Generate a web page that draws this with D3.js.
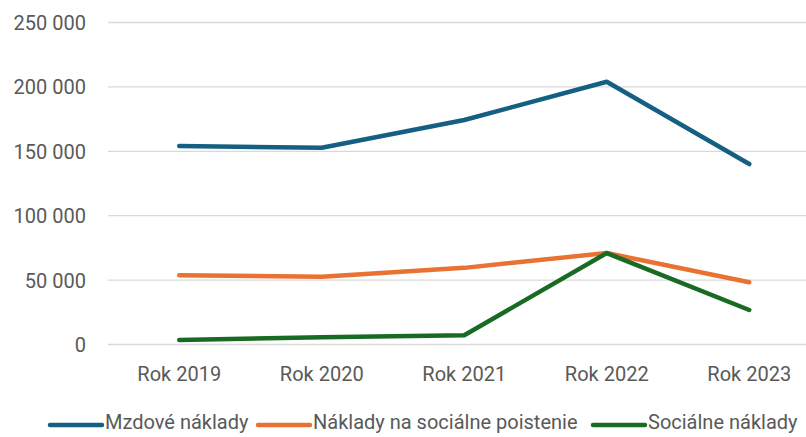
<!DOCTYPE html>
<html><head><meta charset="utf-8">
<script src="https://cdn.jsdelivr.net/npm/d3@7"></script>
<style>body{margin:0;background:#fff}svg{display:block}text{font-family:Roboto,sans-serif;fill:#595959}</style>
</head><body><svg id="c" width="806" height="437"></svg>
<script>
const categories = ["Rok 2019","Rok 2020","Rok 2021","Rok 2022","Rok 2023"];
const mzdove = [154100, 152800, 174300, 204000, 140100];
const poistenie = [53700, 52600, 59500, 71000, 48300];
const socialne = [3500, 5600, 7200, 71000, 26800];
const seriesNames = ["Mzdové náklady","Náklady na sociálne poistenie","Sociálne náklady"];
const yTicks = [0, 50000, 100000, 150000, 200000, 250000];
const colors = ["#156082","#E97132","#196B24"];
const series = [mzdove, poistenie, socialne];

const svg = d3.select("#c");
const x = d3.scaleBand().domain(categories).range([108, 820.5]);
const y = d3.scaleLinear().domain([0, 250000]).range([344.5, 22.5]);
const fmt = v => d3.format(",")(v).replace(/,/g, " ");

svg.append("g").selectAll("line").data(yTicks).join("line")
  .attr("x1", 108).attr("x2", 806).attr("y1", d => y(d)).attr("y2", d => y(d))
  .attr("stroke", "#d9d9d9").attr("stroke-width", 1.3);

const yAxis = svg.append("g").attr("transform", "translate(96,0)")
  .call(d3.axisLeft(y).tickValues(yTicks).tickFormat(fmt).tickSize(0).tickPadding(10));
yAxis.select(".domain").remove();
yAxis.selectAll("text").style("font-size", "20px").attr("fill", "#595959").attr("dy", "0.35em");

const xAxis = svg.append("g").attr("transform", "translate(0,381)")
  .call(d3.axisBottom(x).tickSize(0).tickPadding(0));
xAxis.select(".domain").remove();
xAxis.selectAll("text").style("font-size", "20px").attr("fill", "#595959").attr("dy", "0");

const line = d3.line().x((d, i) => x(categories[i]) + x.bandwidth() / 2).y(d => y(d));
series.forEach((s, k) => {
  svg.append("path").datum(s).attr("d", line).attr("fill", "none")
    .attr("stroke", colors[k]).attr("stroke-width", 4.5)
    .attr("stroke-linejoin", "round").attr("stroke-linecap", "round");
});

const legendX = [50, 258, 593];
const lg = svg.append("g");
seriesNames.forEach((n, k) => {
  const g = lg.append("g").attr("transform", `translate(${legendX[k]},425)`);
  g.append("line").attr("x1", 0).attr("x2", 52).attr("stroke", colors[k])
    .attr("stroke-width", 4.5).attr("stroke-linecap", "round");
  g.append("text").attr("x", 55).attr("y", 4).style("font-size", "20px").text(n);
});
</script></body></html>
